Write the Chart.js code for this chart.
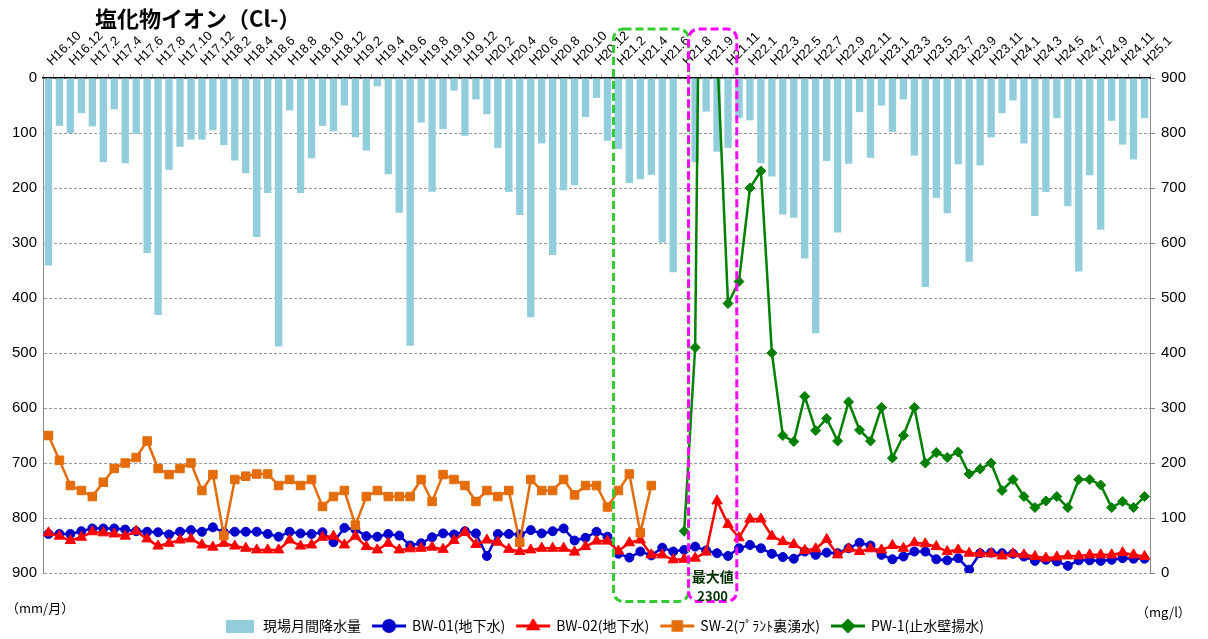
<!DOCTYPE html>
<html lang="ja">
	<head>
		<meta charset="UTF-8" />
		<title>塩化物イオン（Cl-）</title>
		<script src="https://cdn.jsdelivr.net/npm/chart.js"></script>
		<style>
			html,
			body {
				margin: 0;
				padding: 0;
				background: #fff;
			}
			#wrap {
				width: 1208px;
				height: 639px;
				position: relative;
			}
		</style>
	</head>
	<body>
		<div id="wrap">
			<canvas id="clChart"></canvas>
		</div>

		<script>
			// 観測月（H21.8 は2回測定）
			const months = [
				"H16.10", "H16.11", "H16.12", "H17.1", "H17.2", "H17.3", "H17.4", "H17.5", "H17.6", "H17.7",
				"H17.8", "H17.9", "H17.10", "H17.11", "H17.12", "H18.1", "H18.2", "H18.3", "H18.4", "H18.5",
				"H18.6", "H18.7", "H18.8", "H18.9", "H18.10", "H18.11", "H18.12", "H19.1", "H19.2", "H19.3",
				"H19.4", "H19.5", "H19.6", "H19.7", "H19.8", "H19.9", "H19.10", "H19.11", "H19.12", "H20.1",
				"H20.2", "H20.3", "H20.4", "H20.5", "H20.6", "H20.7", "H20.8", "H20.9", "H20.10", "H20.11",
				"H20.12", "H21.1", "H21.2", "H21.3", "H21.4", "H21.5", "H21.6", "H21.7", "H21.8", "H21.8②",
				"H21.9", "H21.10", "H21.11", "H21.12", "H22.1", "H22.2", "H22.3", "H22.4", "H22.5", "H22.6",
				"H22.7", "H22.8", "H22.9", "H22.10", "H22.11", "H22.12", "H23.1", "H23.2", "H23.3", "H23.4",
				"H23.5", "H23.6", "H23.7", "H23.8", "H23.9", "H23.10", "H23.11", "H23.12", "H24.1", "H24.2",
				"H24.3", "H24.4", "H24.5", "H24.6", "H24.7", "H24.8", "H24.9", "H24.10", "H24.11", "H24.12",
				"H25.1",
			];

			// 現場月間降水量 (mm/月)
			const rainfall = [
				341, 87, 100, 64, 88, 153, 57, 155, 102, 318,
				431, 167, 125, 112, 112, 95, 122, 150, 173, 289,
				209, 488, 59, 209, 146, 87, 97, 50, 108, 132,
				15, 175, 245, 487, 81, 207, 93, 23, 105, 39,
				66, 127, 207, 249, 435, 119, 322, 204, 195, 71,
				36, 114, 129, 191, 184, 176, 299, 353, null, 153,
				61, 134, 127, 73, 77, 155, 179, 248, 254, 328,
				464, 151, 281, 156, 62, 145, 50, 98, 39, 141,
				380, 218, 246, 157, 334, 159, 108, 64, 41, 119,
				251, 207, 73, 233, 352, 177, 276, 78, 121, 148,
				73,
			];

			// BW-01(地下水) mg/l
			const bw01 = [
				71, 71, 71, 76, 81, 81, 81, 79, 76, 75,
				74, 70, 75, 78, 75, 83, 74, 75, 75, 75,
				71, 66, 75, 72, 71, 74, 56, 82, 79, 67,
				66, 71, 68, 50, 54, 65, 72, 70, 76, 72,
				31, 71, 71, 70, 78, 72, 76, 81, 59, 64,
				75, 66, 35, 28, 39, 32, 46, 39, 42, 48,
				41, 36, 31, 45, 51, 45, 35, 29, 26, 39,
				33, 37, 36, 45, 55, 50, 33, 25, 30, 39,
				39, 25, 23, 27, 6, 36, 37, 36, 35, 30,
				22, 24, 21, 13, 23, 23, 22, 24, 27, 26,
				26,
			];

			// BW-02(地下水) mg/l
			const bw02 = [
				73, 67, 59, 65, 75, 73, 71, 67, 76, 62,
				49, 54, 60, 62, 51, 47, 54, 49, 45, 42,
				42, 42, 60, 49, 51, 65, 67, 51, 67, 48,
				42, 54, 42, 44, 45, 47, 43, 59, 74, 52,
				60, 56, 43, 39, 42, 45, 45, 45, 38, 48,
				58, 58, 40, 55, 60, 33, 33, 24, 25, 27,
				38, 131, 88, 64, 98, 98, 67, 57, 52, 41,
				44, 61, 33, 44, 39, 44, 42, 50, 45, 55,
				53, 48, 39, 42, 36, 35, 35, 31, 35, 33,
				30, 27, 29, 31, 31, 33, 33, 33, 37, 33,
				30,
			];

			// SW-2(プラント裏湧水) mg/l
			const sw2 = [
				250, 205, 159, 150, 139, 165, 190, 200, 210, 240,
				190, 179, 190, 200, 150, 179, 68, 170, 176, 180,
				180, 159, 170, 159, 170, 121, 139, 150, 87, 139,
				150, 139, 139, 139, 170, 130, 179, 170, 159, 130,
				150, 139, 150, 56, 170, 150, 150, 170, 142, 159,
				159, 120, 150, 180, 73, 159, null, null, null, null,
				null, null, null, null, null, null, null, null, null, null,
				null, null, null, null, null, null, null, null, null, null,
				null, null, null, null, null, null, null, null, null, null,
				null, null, null, null, null, null, null, null, null, null,
				null,
			];

			// PW-1(止水壁揚水) mg/l
			const pw1 = [
				null, null, null, null, null, null, null, null, null, null,
				null, null, null, null, null, null, null, null, null, null,
				null, null, null, null, null, null, null, null, null, null,
				null, null, null, null, null, null, null, null, null, null,
				null, null, null, null, null, null, null, null, null, null,
				null, null, null, null, null, null, null, null, 76, 410,
				2300, 950, 490, 530, 700, 731, 400, 250, 239, 321,
				259, 281, 240, 311, 260, 240, 301, 209, 250, 301,
				200, 219, 210, 220, 180, 189, 200, 150, 170, 139,
				119, 131, 139, 119, 170, 170, 160, 119, 130, 119,
				139,
			];

			const maxLabel = ["最大値", "2300"];

			const sansJP = "'Noto Sans CJK JP', 'Noto Sans', sans-serif";
			Chart.defaults.font.family = "'Liberation Sans', Arial, sans-serif";
			Chart.defaults.color = "#000";

			// small legend icons: a line with its marker in the middle
			function lineIcon(color, style) {
				const c = document.createElement("canvas");
				c.width = 36;
				c.height = 14;
				const g = c.getContext("2d");
				g.strokeStyle = color;
				g.lineWidth = 3;
				g.beginPath();
				g.moveTo(1, 7);
				g.lineTo(35, 7);
				g.stroke();
				Chart.helpers.drawPoint(
					g,
					{ pointStyle: style, radius: style === "rect" ? 6 : 5.5, borderWidth: 1 },
					18,
					7
				);
				g.fillStyle = color;
				g.fill();
				return c;
			}
			function boxIcon(color) {
				const c = document.createElement("canvas");
				c.width = 28;
				c.height = 13;
				const g = c.getContext("2d");
				g.fillStyle = color;
				g.fillRect(0, 0, 28, 13);
				return c;
			}

			// dashed boxes, max value note, title and units
			const notes = {
				id: "notes",
				afterLayout(chart) {
					// nudge the legend row a little lower
					chart.legend.top += 4;
					chart.legend.bottom += 4;
				},
				afterDraw(chart) {
					const { ctx, chartArea, scales } = chart;
					const x = scales.x;
					const top = chartArea.top - 49;
					const bottom = chartArea.bottom + 28.5;

					function dashedBox(i0, i1, color) {
						const l = x.getPixelForValue(i0);
						const r = x.getPixelForValue(i1);
						ctx.save();
						ctx.strokeStyle = color;
						ctx.lineWidth = 3;
						ctx.setLineDash([8, 4]);
						ctx.beginPath();
						ctx.roundRect(l, top, r - l, bottom - top, 10);
						ctx.stroke();
						ctx.restore();
					}
					dashedBox(51.55, 58.4, "#33cc33");
					dashedBox(58.4, 62.8, "#ff00ff");

					ctx.save();
					ctx.fillStyle = "#003300";
					ctx.textAlign = "center";
					ctx.textBaseline = "middle";
					ctx.font = "bold 14px " + sansJP;
					const cx = x.getPixelForValue(60.6);
					ctx.fillText(maxLabel[0], cx, chartArea.bottom + 4);
					ctx.font = "bold 13px " + sansJP;
					ctx.fillText(maxLabel[1], cx, chartArea.bottom + 23);

					ctx.fillStyle = "#000";
					ctx.textAlign = "left";
					ctx.font = "bold 22px " + sansJP;
					ctx.fillText("塩化物イオン（Cl-）", 95, 19);

					ctx.font = "13px " + sansJP;
					ctx.fillText("（mm/月）", 6, chartArea.bottom + 35);
					ctx.fillText("（mg/l）", 1136, chartArea.bottom + 39);
					ctx.restore();
				},
			};

			const ctx = document.getElementById("clChart").getContext("2d");
			new Chart(ctx, {
				type: "bar",
				data: {
					labels: months,
					datasets: [
						{
							type: "bar",
							label: "現場月間降水量",
							data: rainfall,
							yAxisID: "yL",
							backgroundColor: "#92cddc",
							borderWidth: 0,
							barPercentage: 0.67,
							categoryPercentage: 1,
							order: 10,
							icon: boxIcon("#92cddc"),
						},
						{
							type: "line",
							label: "BW-01(地下水)",
							data: bw01,
							yAxisID: "yR",
							borderColor: "#0000cc",
							backgroundColor: "#0000cc",
							borderWidth: 2.5,
							pointStyle: "circle",
							pointRadius: 4.5,
							pointBorderWidth: 1,
							order: 4,
							icon: lineIcon("#0000cc", "circle"),
						},
						{
							type: "line",
							label: "BW-02(地下水)",
							data: bw02,
							yAxisID: "yR",
							borderColor: "#ff0000",
							backgroundColor: "#ff0000",
							borderWidth: 2.5,
							pointStyle: "triangle",
							pointRadius: 6,
							pointBorderWidth: 1,
							order: 3,
							icon: lineIcon("#ff0000", "triangle"),
						},
						{
							type: "line",
							label: "SW-2(ﾌﾟﾗﾝﾄ裏湧水)",
							data: sw2,
							yAxisID: "yR",
							borderColor: "#e46c0a",
							backgroundColor: "#e46c0a",
							borderWidth: 2.5,
							pointStyle: "rect",
							pointRadius: 6,
							pointBorderWidth: 1,
							order: 2,
							icon: lineIcon("#e46c0a", "rect"),
						},
						{
							type: "line",
							label: "PW-1(止水壁揚水)",
							data: pw1,
							yAxisID: "yR",
							borderColor: "#008000",
							backgroundColor: "#008000",
							borderWidth: 2.5,
							pointStyle: "rectRot",
							pointRadius: 5,
							pointBorderWidth: 1,
							order: 1,
							icon: lineIcon("#008000", "rectRot"),
						},
					],
				},
				options: {
					responsive: true,
					maintainAspectRatio: false,
					animation: false,
					layout: { padding: 0 },
					scales: {
						x: {
							position: "top",
							offset: true,
							grid: {
								drawOnChartArea: false,
								tickLength: 4,
								tickColor: "#aaa",
							},
							border: { color: "#000", width: 1.5 },
							ticks: {
								autoSkip: false,
								minRotation: 45,
								maxRotation: 45,
								padding: 5,
								labelOffset: 12,
								font: { size: 13 },
								callback: (v, i) => (i % 2 === 0 ? months[i] : ""),
							},
							afterFit: (s) => {
								s.height = 78;
							},
						},
						yL: {
							position: "left",
							reverse: true,
							min: 0,
							max: 900,
							ticks: { stepSize: 100, padding: 6, font: { size: 15 } },
							grid: { color: "#999", drawTicks: false },
							border: { color: "#888", dash: [3, 2] },
							afterFit: (s) => {
								s.width = 43;
							},
						},
						yR: {
							position: "right",
							min: 0,
							max: 900,
							ticks: { stepSize: 100, padding: 6, font: { size: 15 } },
							grid: {
								drawOnChartArea: false,
								tickLength: 5,
								tickColor: "#888",
							},
							border: { color: "#888" },
							afterFit: (s) => {
								s.width = 58;
							},
						},
					},
					plugins: {
						title: { display: false },
						tooltip: { enabled: false },
						legend: {
							position: "bottom",
							title: {
								display: true,
								text: "",
								font: { size: 10 },
								padding: { top: 18, bottom: 0 },
							},
							labels: {
								usePointStyle: true,
								pointStyleWidth: 32,
								padding: 12,
								font: { family: sansJP, size: 14 },
								generateLabels: (chart) =>
									chart.data.datasets.map((ds, i) => ({
										text: ds.label,
										pointStyle: ds.icon,
										fillStyle: ds.backgroundColor,
										strokeStyle: "transparent",
										lineWidth: 0,
										hidden: false,
										datasetIndex: i,
									})),
							},
						},
					},
				},
				plugins: [notes],
			});
		</script>
	</body>
</html>
